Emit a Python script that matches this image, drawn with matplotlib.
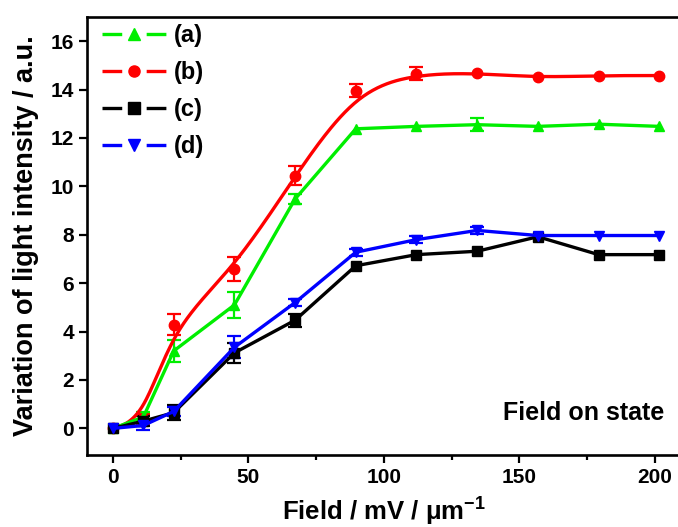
import numpy as np
import matplotlib
matplotlib.use("Agg")
import matplotlib.pyplot as plt
from matplotlib.ticker import MultipleLocator
from matplotlib.lines import Line2D

plt.rcParams['font.family'] = ['Liberation Sans', 'DejaVu Sans']
plt.rcParams['font.weight'] = 'bold'
plt.rcParams['mathtext.fontset'] = 'custom'
plt.rcParams['mathtext.rm'] = 'Liberation Sans:bold'
plt.rcParams['mathtext.bf'] = 'Liberation Sans:bold'
plt.rcParams['mathtext.it'] = 'Liberation Sans:bold'

field = [0, 11.2, 22.4, 44.8, 67.2, 89.6, 112, 134.4, 156.8, 179.2, 201.6]
a_vals = [0, 0.47, 3.2, 5.1, 9.48, 12.38, 12.48, 12.55, 12.48, 12.57, 12.48]
a_err = [0, 0.22, 0.47, 0.55, 0.2, 0, 0, 0.28, 0, 0, 0]
b_vals = [0, 0.4, 4.29, 6.6, 10.45, 13.95, 14.65, 14.68, 14.5, 14.58, 14.58]
b_err = [0, 0.2, 0.45, 0.5, 0.4, 0.27, 0.27, 0, 0, 0, 0]
c_vals = [0, 0.3, 0.65, 3.12, 4.47, 6.72, 7.18, 7.32, 7.92, 7.18, 7.18]
c_err = [0, 0.2, 0.3, 0.42, 0.27, 0, 0, 0, 0, 0, 0]
d_vals = [0, 0.12, 0.7, 3.35, 5.2, 7.28, 7.8, 8.18, 7.97, 7.97, 7.97]
d_err = [0, 0.2, 0.2, 0.45, 0.15, 0.15, 0.15, 0.15, 0, 0, 0]
labels = ['(a)', '(b)', '(c)', '(d)']


def bspline(xs, ys, n=40):
    # Uniform cubic B-spline using the data points as control points (clamped ends)
    P = np.column_stack([xs, ys]).astype(float)
    P = np.vstack([P[0], P[0], P, P[-1], P[-1]])
    out = []
    t = np.linspace(0, 1, n)
    b0 = (1 - t) ** 3 / 6
    b1 = (3 * t ** 3 - 6 * t ** 2 + 4) / 6
    b2 = (-3 * t ** 3 + 3 * t ** 2 + 3 * t + 1) / 6
    b3 = t ** 3 / 6
    for i in range(len(P) - 3):
        seg = (b0[:, None] * P[i] + b1[:, None] * P[i + 1] +
               b2[:, None] * P[i + 2] + b3[:, None] * P[i + 3])
        out.append(seg)
    out = np.vstack(out)
    return out[:, 0], out[:, 1]


fig = plt.figure(figsize=(6.78, 5.27), dpi=100)
ax = fig.add_axes([87 / 678, 72 / 527, 595 / 678, 438 / 527])

x = np.array(field)
lw = 2.4
ms = 7.5

series = [
    ('b', b_vals, b_err, '#ff0000', 'o', True),
    ('a', a_vals, a_err, '#00ee00', '^', False),
    ('c', c_vals, c_err, '#000000', 's', False),
    ('d', d_vals, d_err, '#0000ff', 'v', False),
]
handles = {}
for key, vals, err, col, mk, smooth in series:
    y = np.array(vals)
    e = np.array(err)
    m = e > 0
    ax.errorbar(x[m], y[m], yerr=e[m], fmt='none', ecolor=col, elinewidth=1.6,
                capsize=5, capthick=1.6, zorder=2)
    if smooth:
        sx, sy = bspline(x, y)
        ax.plot(sx, sy, color=col, lw=lw, zorder=3)
        ax.plot(x, y, linestyle='none', marker=mk, color=col, ms=ms, zorder=3)
    else:
        ax.plot(x, y, color=col, lw=lw, marker=mk, ms=ms, zorder=3)
    hl = Line2D([], [], color=col, lw=lw, linestyle=(0, (14.2 / lw, 17.6 / lw, 14.2 / lw, 40)))
    hm = Line2D([], [], color=col, lw=0, marker=mk, ms=ms + 0.5, linestyle='none')
    handles[key] = (hl, hm)

leg = ax.legend([handles['a'], handles['b'], handles['c'], handles['d']], labels,
                loc='upper left', bbox_to_anchor=(0.017, 0.995), frameon=False,
                fontsize=17, handlelength=2.75, handletextpad=0.3,
                labelspacing=0.6, numpoints=1, borderpad=0.2, borderaxespad=0)
for t in leg.get_texts():
    t.set_fontweight('bold')

ax.set_xlim(-9.6, 210)
ax.set_ylim(-1.1, 17)
ax.xaxis.set_major_locator(MultipleLocator(50))
ax.xaxis.set_minor_locator(MultipleLocator(25))
ax.yaxis.set_major_locator(MultipleLocator(2))
ax.tick_params(axis='both', which='major', direction='out', length=6, width=1.6,
               labelsize=15, top=False, right=False)
ax.tick_params(axis='x', which='minor', direction='out', length=3.5, width=1.6)
for lab in ax.get_xticklabels() + ax.get_yticklabels():
    lab.set_fontweight('bold')
for s in ax.spines.values():
    s.set_linewidth(1.9)

ax.set_xlabel(r'Field / mV / μm$^{-1}$', fontsize=18.5, fontweight='bold', labelpad=6)
ax.set_ylabel('Variation of light intensity / a.u.', fontsize=19.5, fontweight='bold', labelpad=8)

ax.text(0.834, 0.096, 'Field on state', transform=ax.transAxes, ha='center', va='center',
        fontsize=18, fontweight='bold')

fig.savefig('out.png', dpi=100)
